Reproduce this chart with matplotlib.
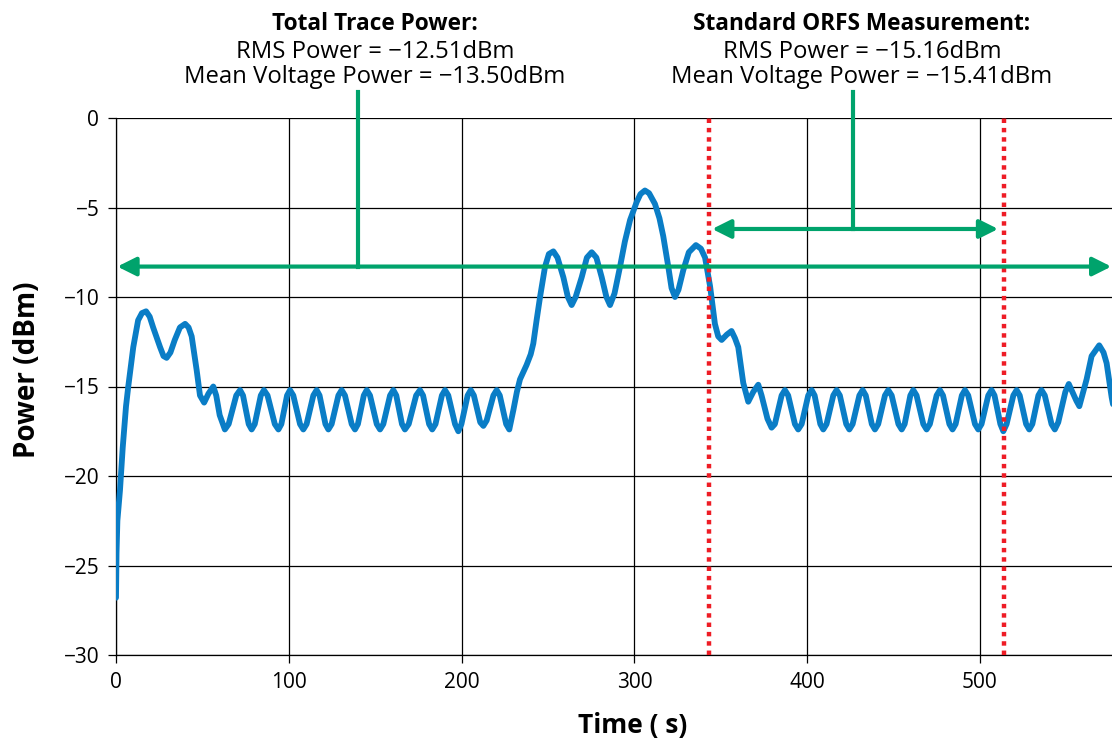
import matplotlib
matplotlib.use("Agg")
import matplotlib.pyplot as plt

# trace (time in us, power in dBm)
time_us = [
    0.0, 0.3, 0.8, 2.3, 3.9, 5.8, 7.1, 10.0, 12.8, 15.0, 17.4, 19.5, 21.5, 25.5, 27.5, 29.3,
    31.5, 34.0, 37.0, 40.0, 42.0, 43.8, 45.0, 46.7, 48.6, 51.0, 53.5, 56.3, 58.0, 60.0, 63.0,
    65.2, 69.6, 71.8, 73.5, 76.8, 78.5, 80.3, 83.8, 85.6, 87.7, 91.9, 94.0,
    95.7, 99.0, 100.7, 102.6, 106.5, 108.4, 110.3, 114.2, 116.1, 117.8, 121.2, 122.9,
    124.8, 128.7, 130.6, 132.5, 136.4, 138.3, 140.0, 143.4, 145.1, 147.0, 150.9, 152.8,
    154.7, 158.6, 160.5, 162.2, 165.5, 167.2, 169.4, 173.7, 175.9, 177.7, 181.2, 183.0,
    184.9, 188.6, 190.4, 192.3, 196.2, 198.1, 199.9, 203.5, 205.3, 207.1, 210.8, 212.6,
    214.5, 218.4, 220.3, 222.1, 225.8, 227.6,
    230.0, 232.0, 233.8, 237.6, 240.0, 241.5, 243.4, 245.4, 248.3, 250.5, 253.1, 255.5, 258.9, 261.5,
    263.7, 266.0, 269.5, 272.5, 275.3, 278.0, 281.1, 283.8, 285.9, 288.5, 291.7, 294.5,
    297.5, 301.3, 303.5, 306.1, 308.5, 311.9, 314.5, 316.7, 319.6, 321.5, 323.5, 325.5,
    328.3, 331.5, 335.6, 338.5, 340.9, 343.8, 346.6, 348.5, 350.5, 353.5, 356.2, 358.2,
    360.1, 363.0, 365.9, 368.8, 371.7, 373.6, 377.0, 379.4,
    381.3, 385.2, 387.1, 389.0, 392.9, 394.8, 396.8, 400.6, 402.6, 404.3, 407.6, 409.3,
    411.2, 415.1, 417.0, 418.9, 422.6, 424.4, 426.3, 430.2, 432.1, 433.9, 437.4, 439.2,
    441.1, 445.0, 446.9, 448.9, 452.8, 454.7, 456.4, 459.7, 461.4, 463.3, 467.2, 469.1,
    471.0, 474.9, 476.8, 478.6, 482.3, 484.1, 485.9, 489.5, 491.3, 493.2, 497.1, 499.0,
    500.9, 504.8, 506.7, 508.4, 511.8, 513.5, 515.4, 519.3, 521.2, 523.0, 526.7, 528.5,
    530.3, 533.8, 535.6, 537.5, 541.4, 543.3, 545.3, 549.4, 551.4, 553.0, 555.8, 557.5,
    561.7, 564.6, 569.0, 571.5, 573.3, 576.2, 578.0,
]
power_dbm = [
    -26.8, -24.3, -22.5, -20.8, -18.4, -16.1, -15.0, -12.8, -11.3, -10.9, -10.8, -11.1, -11.7, -12.8, -13.3, -13.4,
    -13.1, -12.4, -11.7, -11.5, -11.7, -12.2, -13.0, -14.1, -15.5, -15.9, -15.4, -15.0, -15.5, -16.6, -17.4,
    -17.1, -15.5, -15.2, -15.5, -17.1, -17.4, -17.1, -15.5, -15.2, -15.5, -17.1, -17.4,
    -17.1, -15.5, -15.2, -15.5, -17.1, -17.4, -17.1, -15.5, -15.2, -15.5, -17.1, -17.4,
    -17.1, -15.5, -15.2, -15.5, -17.1, -17.4, -17.1, -15.5, -15.2, -15.5, -17.1, -17.4,
    -17.1, -15.5, -15.2, -15.5, -17.1, -17.4, -17.1, -15.5, -15.2, -15.5, -17.1, -17.4,
    -17.1, -15.5, -15.2, -15.5, -17.1, -17.5, -17.1, -15.5, -15.2, -15.5, -17.0, -17.2,
    -16.9, -15.5, -15.2, -15.5, -17.1, -17.4,
    -16.3, -15.3, -14.6, -13.8, -13.2, -12.6, -11.3, -10.0, -8.3, -7.6, -7.45, -7.8, -8.9, -10.0,
    -10.45, -10.0, -8.9, -7.8, -7.5, -7.8, -8.9, -10.0, -10.45, -9.8, -8.3, -6.9,
    -5.7, -4.7, -4.25, -4.05, -4.2, -4.8, -5.6, -6.6, -8.3, -9.5, -10.0, -9.6,
    -8.5, -7.5, -7.1, -7.3, -7.8, -9.4, -11.5, -12.2, -12.4, -12.1, -11.9, -12.3,
    -12.8, -14.8, -15.85, -15.3, -14.9, -15.5, -16.8, -17.3,
    -17.1, -15.5, -15.2, -15.5, -17.1, -17.4, -17.1, -15.5, -15.2, -15.5, -17.1, -17.4,
    -17.1, -15.5, -15.2, -15.5, -17.1, -17.4, -17.1, -15.5, -15.2, -15.5, -17.1, -17.4,
    -17.1, -15.5, -15.2, -15.5, -17.1, -17.4, -17.1, -15.5, -15.2, -15.5, -17.1, -17.4,
    -17.1, -15.5, -15.2, -15.5, -17.1, -17.4, -17.1, -15.5, -15.2, -15.5, -17.1, -17.4,
    -17.1, -15.5, -15.2, -15.5, -17.1, -17.5, -17.1, -15.5, -15.2, -15.5, -17.1, -17.4,
    -17.1, -15.5, -15.2, -15.5, -17.1, -17.4, -17.0, -15.3, -14.86, -15.2, -15.8, -16.1,
    -14.6, -13.3, -12.7, -13.1, -13.7, -15.6, -16.5,
]

# measurement windows / annotation levels
orfs_window = [343.3, 513.9]
total_level = -8.3
orfs_level = -6.2
stem_x = [140.0, 426.5]
stem_top = 1.45

total_lines = ["Total Trace Power:", "RMS Power = \u221212.51dBm", "Mean Voltage Power = \u221213.50dBm"]
orfs_lines = ["Standard ORFS Measurement:", "RMS Power = \u221215.16dBm", "Mean Voltage Power = \u221215.41dBm"]

x_ticks = [0, 100, 200, 300, 400, 500]
y_ticks = [-30, -25, -20, -15, -10, -5, 0]

blue = "#0a7dc6"
green = "#00a36c"
red = "#ee1c25"

plt.rcParams["font.family"] = ["Open Sans", "DejaVu Sans"]

fig = plt.figure(figsize=(11.12, 7.42), dpi=100)
ax = fig.add_axes([116 / 1112, 1 - 655 / 742, 1 - 116 / 1112, (655 - 118) / 742])

ax.set_xlim(0, 576.4)
ax.set_ylim(-30, 0)
ax.set_xticks(x_ticks)
ax.set_yticks(y_ticks)
ax.grid(True, color="black", linewidth=0.9)
ax.set_axisbelow(True)
for s in ["top", "right"]:
    ax.spines[s].set_visible(False)
for s in ["left", "bottom"]:
    ax.spines[s].set_linewidth(0.9)
ax.tick_params(direction="out", length=6, width=0.9, labelsize=15, colors="black", pad=6)

# measurement gate
for xv in orfs_window:
    ax.axvline(xv, color=red, linewidth=3.2, linestyle=(0, (1, 1.1)), zorder=4)

ax.plot(time_us, power_dbm, color=blue, linewidth=4.2,
        solid_joinstyle="round", solid_capstyle="round", zorder=3)

# arrows
arrow = dict(arrowstyle="<|-|>", color=green, lw=3, mutation_scale=28, shrinkA=0, shrinkB=0)
ax.annotate("", xy=(0.8, total_level), xytext=(576.0, total_level),
            arrowprops=arrow, annotation_clip=False, zorder=5)
ax.annotate("", xy=(345.0, orfs_level), xytext=(510.5, orfs_level),
            arrowprops=arrow, annotation_clip=False, zorder=5)
ax.plot([stem_x[0], stem_x[0]], [total_level, stem_top], color=green, lw=3, clip_on=False, zorder=5)
ax.plot([stem_x[1], stem_x[1]], [orfs_level, stem_top], color=green, lw=3, clip_on=False, zorder=5)

# header text
for cx, lines in [(375 / 1112, total_lines), (862 / 1112, orfs_lines)]:
    fig.text(cx, 1 - 30 / 742, lines[0], ha="center", va="baseline", fontsize=16.3, fontweight="bold")
    fig.text(cx, 1 - 58 / 742, lines[1], ha="center", va="baseline", fontsize=17.2)
    fig.text(cx, 1 - 83 / 742, lines[2], ha="center", va="baseline", fontsize=17.2)

fig.text(28 / 1112, 1 - 370 / 742, "Power (dBm)", rotation=90, ha="center", va="center",
         fontsize=20, fontweight="bold")
fig.text(633 / 1112, 1 - 726 / 742, "Time ( s)", ha="center", va="center",
         fontsize=19, fontweight="bold")

fig.savefig("out.png", dpi=100)
